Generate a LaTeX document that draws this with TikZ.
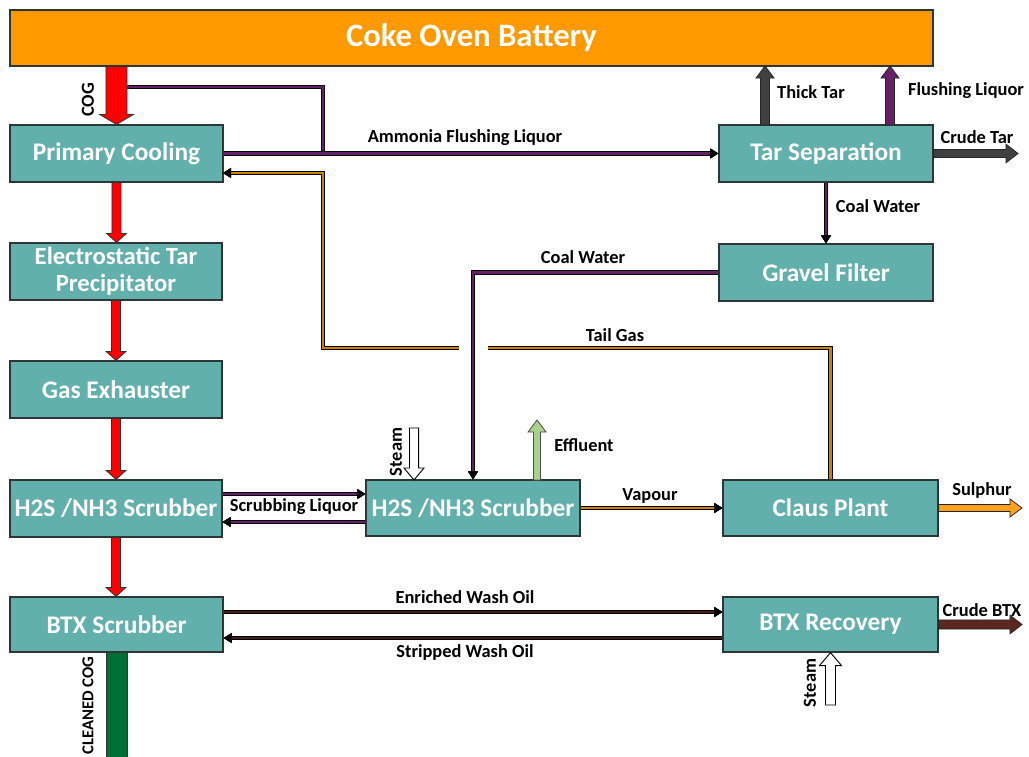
\documentclass[tikz,border=0pt]{standalone}
\usepackage{fontspec}
\setmainfont{Carlito}
\usetikzlibrary{arrows.meta,calc}
\definecolor{teal1}{RGB}{98,176,172}
\definecolor{boxline}{RGB}{45,55,55}
\definecolor{coke}{RGB}{255,153,0}
\definecolor{tailgas}{RGB}{204,132,0}
\definecolor{sulph}{RGB}{255,162,30}
\definecolor{targ}{RGB}{64,64,64}
\definecolor{purp}{RGB}{102,32,102}
\definecolor{brown1}{RGB}{70,30,20}
\definecolor{brown2}{RGB}{90,40,30}
\definecolor{effl}{RGB}{169,209,142}
\definecolor{cleang}{RGB}{0,112,52}
\newcommand\blkdown[6]{\path[#6] let \p1=(#1),\p2=(#2) in (\x1-#3,\y1) -- (\x1-#3,\y2+#5) -- (\x1-#4,\y2+#5) -- (\x1,\y2) -- (\x1+#4,\y2+#5) -- (\x1+#3,\y2+#5) -- (\x1+#3,\y1) -- cycle;}
\newcommand\blkup[6]{\path[#6] let \p1=(#1),\p2=(#2) in (\x1-#3,\y1) -- (\x1-#3,\y2-#5) -- (\x1-#4,\y2-#5) -- (\x1,\y2) -- (\x1+#4,\y2-#5) -- (\x1+#3,\y2-#5) -- (\x1+#3,\y1) -- cycle;}
\newcommand\blkright[6]{\path[#6] let \p1=(#1),\p2=(#2) in (\x1,\y1-#3) -- (\x2-#5,\y1-#3) -- (\x2-#5,\y1-#4) -- (\x2,\y1) -- (\x2-#5,\y1+#4) -- (\x2-#5,\y1+#3) -- (\x1,\y1+#3) -- cycle;}
% box node from pixel corners
\newcommand\pbox[7][]{\node[box, minimum width={(#4-#2)*0.75pt}, minimum height={(#5-#3)*0.75pt}, #1] (#6) at ({(#2+#4)/2},{(#3+#5)/2}) {#7};}
\tikzset{
  box/.style={draw=boxline, fill=teal1, line width=0.9pt, inner sep=0pt, text=white,
    font=\bfseries\fontsize{19}{21}\selectfont, align=center},
  lbl/.style={font=\bfseries\fontsize{13.8}{15}\selectfont, text=black, inner sep=0pt},
  pipe/.style={line width=2.1pt, preaction={draw=black, line width=3.6pt}},
  ppipe/.style={pipe, draw=purp},
  opipe/.style={pipe, draw=tailgas},
  bpipe/.style={pipe, draw=brown1},
  tipr/.style={-{Triangle[length=6pt,width=7.5pt,line width=0.3pt,color=black]}},
  redarr/.style={fill=red, draw=black!80, line width=0.6pt},
  grayarr/.style={fill=targ, draw=black!85, line width=0.6pt},
  purparr/.style={fill=purp, draw=black!85, line width=0.6pt},
  sularr/.style={fill=sulph, draw=black!85, line width=0.6pt},
  btxarr/.style={fill=brown2, draw=black!85, line width=0.6pt},
  effarr/.style={fill=effl, draw=black!70, line width=0.6pt},
  steamarr/.style={fill=white, draw=black, line width=0.7pt},
}
\begin{document}
\begin{tikzpicture}[x=0.75pt,y=-0.75pt]
\useasboundingbox (0,0) rectangle (1029,757);
% boxes
\pbox[fill=coke, font=\bfseries\fontsize{24.5}{27}\selectfont]{10}{10}{933}{66}{coke}{Coke Oven Battery}
\pbox{10}{125}{223}{182}{pc}{Primary Cooling}
\pbox[font=\bfseries\fontsize{18.5}{20}\selectfont]{10}{243}{222}{300}{ets}{Electrostatic Tar\\Precipitator}
\pbox{10}{361}{222}{418}{gx}{Gas Exhauster}
\pbox{10}{480}{222}{537}{hl}{H2S /NH3 Scrubber}
\pbox{10}{597}{223}{652}{btx}{BTX Scrubber}
\pbox{719}{125}{933}{182}{tar}{Tar Separation}
\pbox{719}{244}{933}{301}{gf}{Gravel Filter}
\pbox{366}{480}{580}{536}{hm}{H2S /NH3 Scrubber}
\pbox{723}{480}{938}{536}{claus}{Claus Plant}
\pbox{723}{597}{938}{652}{btxr}{BTX Recovery}
% coordinates
\coordinate (cogR) at (127,87);
\coordinate (j1) at (323,153.5);
\coordinate (tg1) at (323,348);
\coordinate (pcin) at (223,173);
\coordinate (tt1) at (765,125);
\coordinate (tt2) at (765,66);
\coordinate (fl1) at (890,125);
\coordinate (fl2) at (890,66);
\coordinate (ctar) at (1018,153.5);
\coordinate (sulend) at (1022,508);
\coordinate (btxend) at (1022,624.5);
\coordinate (st1) at (414,428);
\coordinate (st1e) at (414,480);
\coordinate (ef1) at (537,480);
\coordinate (ef1e) at (537,420);
\coordinate (st2) at (830.5,705);
\coordinate (gend) at (116.5,770);
% red gas arrows
\blkdown{coke.south -| pc.north}{pc.north}{7.9pt}{12.75pt}{7.5pt}{redarr}
\blkdown{pc.south}{ets.north}{3.4pt}{7.5pt}{6.75pt}{redarr}
\blkdown{ets.south}{gx.north}{3.4pt}{7.5pt}{6.75pt}{redarr}
\blkdown{gx.south}{hl.north}{3.4pt}{7.5pt}{6.75pt}{redarr}
\blkdown{hl.south}{btx.north}{3.4pt}{7.5pt}{6.75pt}{redarr}
\path[fill=cleang, draw=black!80, line width=0.6pt] let \p1=(btx.south),\p2=(gend) in (\x1-7.9pt,\y1) rectangle (\x1+7.9pt,\y2);
% tar separation outputs
\blkup{tt1}{tt2}{3.4pt}{6.75pt}{9pt}{grayarr}
\blkup{fl1}{fl2}{3.4pt}{6.75pt}{9pt}{purparr}
\blkright{tar.east}{ctar}{3pt}{7pt}{9pt}{grayarr}
% pipes
\draw[opipe, tipr] (claus.north) |- (tg1) |- (pcin);
\draw[white, line width=7pt] (459,348) -- (488,348);
\draw[ppipe] (cogR) -| (j1);
\draw[ppipe, tipr] (pc.east) -- (tar.west);
\draw[ppipe, tipr] (tar.south) -- (gf.north);
\draw[ppipe, tipr] (gf.west) -| (hm.north);
\draw[ppipe, tipr] ($(hl.east)+(0,-14.5)$) -- ($(hm.west)+(0,-14)$);
\draw[ppipe, tipr] ($(hm.west)+(0,14)$) -- ($(hl.east)+(0,13.5)$);
\draw[opipe, tipr] (hm.east) -- (claus.west);
\draw[bpipe, tipr] ($(btx.east)+(0,-12.5)$) -- ($(btxr.west)+(0,-12.5)$);
\draw[bpipe, tipr] ($(btxr.west)+(0,13.5)$) -- ($(btx.east)+(0,13.5)$);
% other block arrows
\blkright{claus.east}{sulend}{2.6pt}{6.75pt}{9pt}{sularr}
\blkright{btxr.east}{btxend}{3.4pt}{7pt}{9pt}{btxarr}
\blkdown{st1}{st1e}{3.4pt}{7.5pt}{9pt}{steamarr}
\blkup{ef1}{ef1e}{2.6pt}{6.75pt}{9pt}{effarr}
\blkup{st2}{btxr.south}{3.75pt}{8.25pt}{9.75pt}{steamarr}
% labels
\node[lbl, rotate=90] (lcog) at (88,100) {COG};
\node[lbl] (lamm) at (465,138) {Ammonia Flushing Liquor};
\node[lbl] (lthick) at (811,92) {Thick Tar};
\node[lbl] (lflush) at (966,91) {Flushing Liquor};
\node[lbl] (lctar) at (977,137) {Crude Tar};
\node[lbl] (lcw1) at (878,206) {Coal Water};
\node[lbl] (lcw2) at (583,257) {Coal Water};
\node[lbl] (ltail) at (615,335) {Tail Gas};
\node[lbl, rotate=90] (lst1) at (396,452) {Steam};
\node[lbl] (leff) at (584,445) {Effluent};
\node[lbl] (lscr) at (294,507) {Scrubbing Liquor};
\node[lbl] (lvap) at (650,496) {Vapour};
\node[lbl] (lsul) at (982,490) {Sulphur};
\node[lbl] (lenr) at (465,597) {Enriched Wash Oil};
\node[lbl] (lstr) at (465,652) {Stripped Wash Oil};
\node[lbl] (lcbtx) at (982,610) {Crude BTX};
\node[lbl, rotate=90] (lst2) at (810,683) {Steam};
\node[lbl, rotate=90, anchor=west, font=\bfseries\fontsize{12.5}{14}\selectfont] (lclean) at (88,755) {CLEANED COG};
\end{tikzpicture}
\end{document}
